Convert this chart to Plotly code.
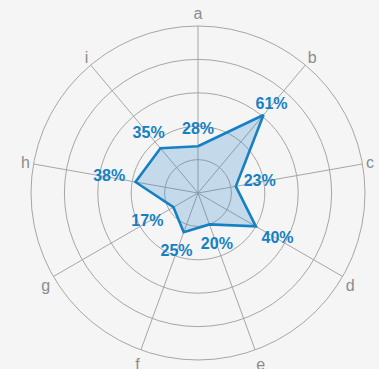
import plotly.graph_objects as go

categories = ["a", "b", "c", "d", "e", "f", "g", "h", "i"]
values = [28, 61, 23, 40, 20, 25, 17, 38, 35]
radial_ticks = [20, 40, 60, 80, 100]

# how far (in radial units) each value label sits beyond its point
label_offsets = [10, 7.5, 14.5, 15, 13, 12.5, 18, 16, 11]

line_color = "#1580c4"
bg = "#f5f5f5"
grid = "#a6a6a6"
font_family = "Liberation Sans, Arial, sans-serif"

closed_r = values + values[:1]
closed_theta = categories + categories[:1]

fig = go.Figure()
fig.add_trace(go.Scatterpolar(
    r=closed_r,
    theta=closed_theta,
    mode="lines",
    fill="toself",
    fillcolor="rgba(40,135,200,0.24)",
    line=dict(color=line_color, width=2.6),
    hoverinfo="skip",
    showlegend=False,
))
fig.add_trace(go.Scatterpolar(
    r=[v + d for v, d in zip(values, label_offsets)],
    theta=categories,
    mode="text",
    text=[f"{v}%" for v in values],
    textposition="middle center",
    textfont=dict(family=font_family, size=16, color=line_color, weight="bold"),
    hoverinfo="skip",
    showlegend=False,
))

fig.update_layout(
    width=379,
    height=369,
    margin=dict(l=31, r=14, t=26, b=9),
    paper_bgcolor=bg,
    plot_bgcolor=bg,
    polar=dict(
        bgcolor=bg,
        radialaxis=dict(
            range=[0, 100],
            tickvals=radial_ticks,
            showticklabels=False,
            ticks="",
            showline=False,
            gridcolor=grid,
            gridwidth=1,
            layer="above traces",
        ),
        angularaxis=dict(
            direction="clockwise",
            rotation=90,
            categoryorder="array",
            categoryarray=categories,
            showline=True,
            linecolor=grid,
            linewidth=1,
            gridcolor=grid,
            gridwidth=1,
            ticks="",
            tickfont=dict(family=font_family, size=16, color="#8c8c8c"),
            layer="above traces",
        ),
    ),
)

fig.write_html("out.html")
